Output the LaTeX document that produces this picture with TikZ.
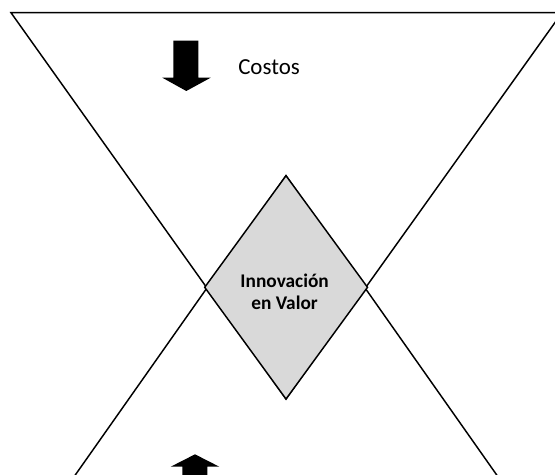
\documentclass[tikz,border=0pt]{standalone}
\usepackage{fontspec}
\setmainfont{Carlito}
\begin{document}
\begin{tikzpicture}[x=0.75pt,y=-0.75pt,
  edge/.style={draw=black,line width=1.1pt,line join=miter},
  core/.style={edge,fill=black!15},
  bigarrow/.style={fill=black,draw=none},
  label/.style={inner sep=0pt,font=\fontsize{17.2pt}{20pt}\selectfont},
  corelabel/.style={inner sep=0pt,align=center,
    font=\fontsize{14.5pt}{16.8pt}\selectfont\bfseries}]
\useasboundingbox (0,0) rectangle (555,474);
\clip (0,0) rectangle (555,474);

% key points
\coordinate (tl) at (11,12.7);
\coordinate (tr) at (562,12.7);
\coordinate (bl) at (14,562);
\coordinate (br) at (558,562);
\coordinate (dt) at (286,175.7);
\coordinate (db) at (286,399);
\coordinate (dl) at (204.7,287.3);
\coordinate (dr) at (367.5,287.3);

% inverted triangle (costs) and upright triangle (value)
\draw[edge] (tl) -- (tr) -- (db) -- cycle;
\draw[edge] (dt) -- (br) -- (bl) -- cycle;

% central diamond
\draw[core] (dt) -- (dr) -- (db) -- (dl) -- cycle;
\node[corelabel] (iv) at (284.6,291.5) {Innovación\\en Valor};

% downward block arrow with its label
\fill[bigarrow] (173.3,40.7) -- (198.3,40.7) -- (198.3,77.7) -- (210.7,77.7)
  -- (186.3,91) -- (162.3,77.7) -- (173.3,77.7) -- cycle;
\node[label,anchor=base west] (costos) at (238,74.3) {Costos};

% upward block arrow
\fill[bigarrow] (182.3,490) -- (182.3,466.7) -- (170.7,466.7) -- (195,454.3)
  -- (219.3,466.7) -- (207.3,466.7) -- (207.3,490) -- cycle;
\end{tikzpicture}
\end{document}
